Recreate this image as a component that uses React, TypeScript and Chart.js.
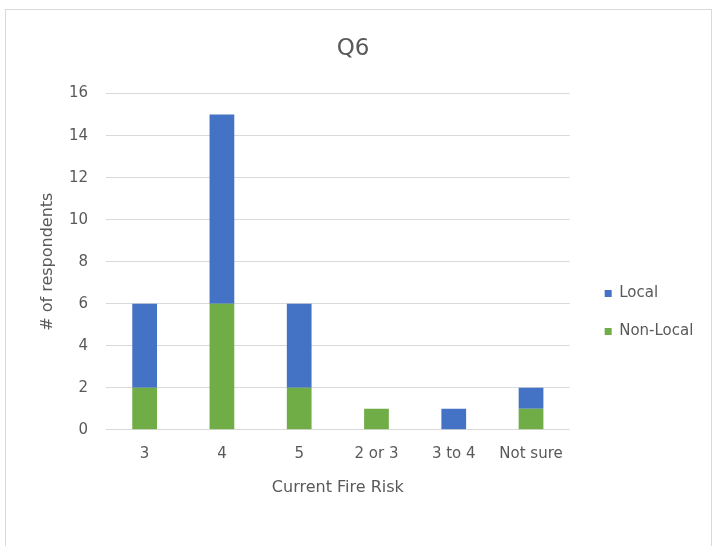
import React, { useEffect, useRef } from "react";
import { Chart, registerables } from "chart.js";

Chart.register(...registerables);

const categories = ["3", "4", "5", "2 or 3", "3 to 4", "Not sure"];
const nonLocalValues = [2, 6, 2, 1, 0, 1];
const localValues = [4, 9, 4, 0, 1, 1];
const yTicks = [0, 2, 4, 6, 8, 10, 12, 14, 16];

const FONT = "'DejaVu Sans', sans-serif";
const TEXT = "#595959";

export default function App() {
  const ref = useRef<HTMLCanvasElement | null>(null);

  useEffect(() => {
    if (!ref.current) return;
    const chart = new Chart(ref.current, {
      type: "bar",
      data: {
        labels: categories,
        datasets: [
          {
            label: "Non-Local",
            data: nonLocalValues,
            backgroundColor: "#70AD47",
            borderWidth: 0,
            barPercentage: 0.32,
            categoryPercentage: 1,
          },
          {
            label: "Local",
            data: localValues,
            backgroundColor: "#4472C4",
            borderWidth: 0,
            barPercentage: 0.32,
            categoryPercentage: 1,
          },
        ],
      },
      options: {
        animation: false,
        responsive: false,
        layout: { padding: { top: 12, left: 10, right: 21, bottom: 49 } },
        plugins: {
          title: {
            display: true,
            text: "Q6",
            color: TEXT,
            font: { family: FONT, size: 23, weight: "normal" },
            padding: { top: 23, bottom: 31 },
          },
          legend: {
            display: true,
            position: "right",
            reverse: true,
            title: {
              display: true,
              text: " ",
              font: { size: 1 },
              padding: { top: 115, bottom: 0 },
            },
            labels: {
              boxWidth: 7,
              boxHeight: 7,
              padding: 23,
              color: TEXT,
              font: { family: FONT, size: 15 },
            },
          },
          tooltip: { enabled: false },
        },
        scales: {
          x: {
            stacked: true,
            grid: { display: false },
            border: { display: false },
            ticks: {
              color: TEXT,
              font: { family: FONT, size: 15 },
              padding: 7,
            },
            title: {
              display: true,
              text: "Current Fire Risk",
              color: TEXT,
              font: { family: FONT, size: 16 },
              padding: { top: 8, bottom: 0 },
            },
          },
          y: {
            stacked: true,
            min: 0,
            max: 16,
            afterBuildTicks: (scale: any) => {
              scale.ticks = yTicks.map((v) => ({ value: v }));
            },
            grid: { color: "#d9d9d9", drawTicks: false },
            border: { display: false },
            ticks: {
              color: TEXT,
              font: { family: FONT, size: 15 },
              padding: 18,
            },
            title: {
              display: true,
              text: "# of respondents",
              color: TEXT,
              font: { family: FONT, size: 16 },
              padding: { top: 28, bottom: 0 },
            },
            afterFit: (scale: any) => {
              scale.width = 96;
            },
          },
          gap: {
            type: "linear",
            position: "right",
            display: true,
            grid: { display: false, drawOnChartArea: false },
            border: { display: false },
            ticks: { display: false },
            afterFit: (scale: any) => {
              scale.width = 12;
            },
          },
        },
      },
    });
    return () => chart.destroy();
  }, []);

  return (
    <div
      style={{
        position: "fixed",
        left: 0,
        top: 0,
        width: 717,
        height: 546,
        background: "#ffffff",
        overflow: "hidden",
      }}
    >
      <div
        style={{
          position: "absolute",
          left: 5,
          top: 9,
          width: 707,
          height: 600,
          border: "1px solid #d9d9d9",
          boxSizing: "border-box",
        }}
      />
      <canvas
        ref={ref}
        width={717}
        height={546}
        style={{ position: "absolute", left: 0, top: 0, width: 717, height: 546 }}
      />
    </div>
  );
}
